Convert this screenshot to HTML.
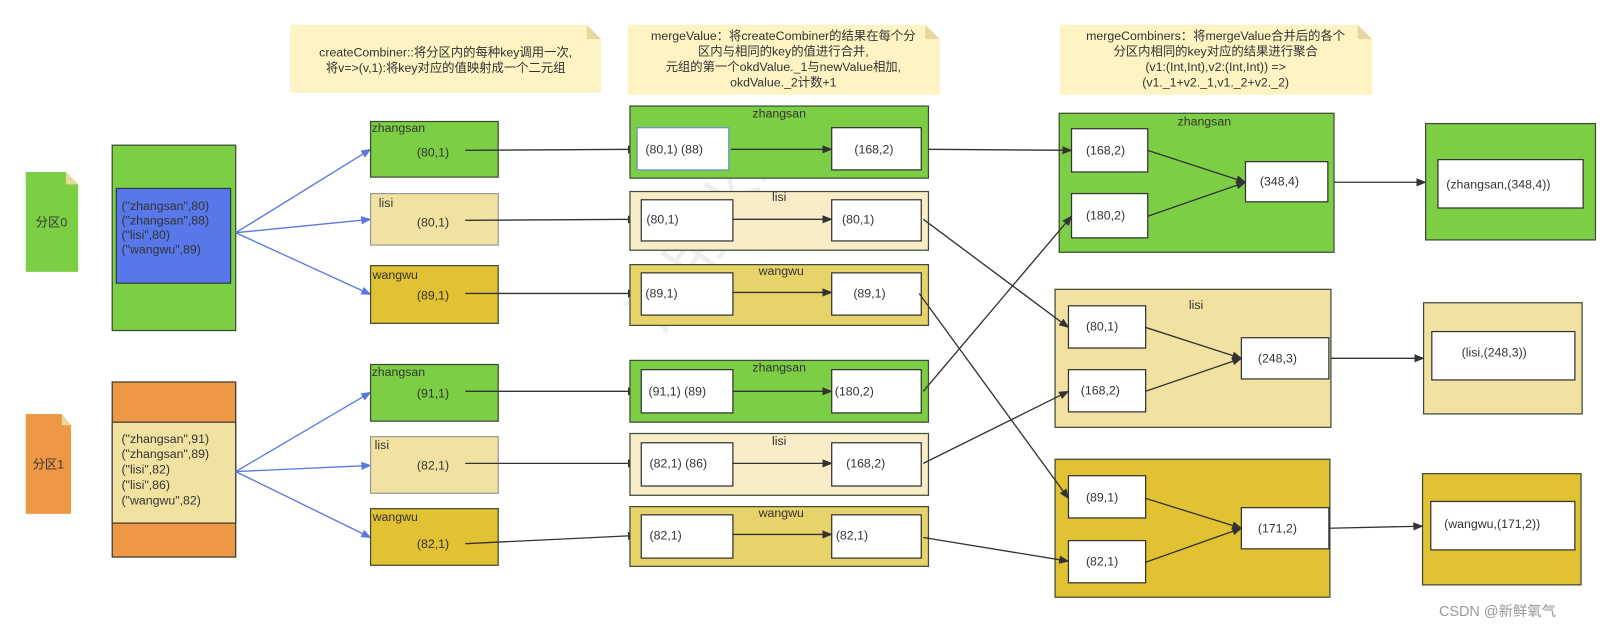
<!DOCTYPE html>
<html><head><meta charset="utf-8"><style>
html,body{margin:0;padding:0;background:#fff;}
svg{display:block;}
text{font-family:"Liberation Sans","Noto Sans CJK SC",sans-serif;font-size:12px;fill:#333;}
</style></head><body>
<svg width="1614" height="624" viewBox="0 0 1568 606" preserveAspectRatio="none" xmlns="http://www.w3.org/2000/svg">
<defs>
<marker id="a" markerWidth="10" markerHeight="8" refX="9" refY="4" orient="auto" markerUnits="userSpaceOnUse"><path d="M0,0 L10,4 L0,8 Z" fill="#333"/></marker>
<marker id="b" markerWidth="10" markerHeight="8" refX="9" refY="4" orient="auto" markerUnits="userSpaceOnUse"><path d="M0,0 L10,4 L0,8 Z" fill="#5a78e0"/></marker>
</defs>
<rect width="1568" height="606" fill="#fff"/>
<!-- watermark -->
<text x="0" y="0" transform="translate(640,330) rotate(-55)" style="font-size:60px;fill:#eeeeee">试用水印</text>

<!-- notes -->
<path d="M282,24 H570 L584,38 V90 H282 Z" fill="#fdf3c3"/><path d="M570,24 L584,38 H570 Z" fill="#e6d89f"/>
<text x="433" y="55" text-anchor="middle">createCombiner::将分区内的每种key调用一次,</text>
<text x="433" y="70" text-anchor="middle">将v=&gt;(v,1):将key对应的值映射成一个二元组</text>
<path d="M610,24 H899 L913,38 V92 H610 Z" fill="#fdf3c3"/><path d="M899,24 L913,38 H899 Z" fill="#e6d89f"/>
<text x="761" y="39" text-anchor="middle">mergeValue：将createCombiner的结果在每个分</text>
<text x="761" y="54" text-anchor="middle">区内与相同的key的值进行合并,</text>
<text x="761" y="69" text-anchor="middle">元组的第一个okdValue._1与newValue相加,</text>
<text x="761" y="84" text-anchor="middle">okdValue._2计数+1</text>
<path d="M1030,24 H1319 L1333,38 V92 H1030 Z" fill="#fdf3c3"/><path d="M1319,24 L1333,38 H1319 Z" fill="#e6d89f"/>
<text x="1181" y="39" text-anchor="middle">mergeCombiners：将mergeValue合并后的各个</text>
<text x="1181" y="54" text-anchor="middle">分区内相同的key对应的结果进行聚合</text>
<text x="1181" y="69" text-anchor="middle">(v1:(Int,Int),v2:(Int,Int)) =&gt;</text>
<text x="1181" y="84" text-anchor="middle">(v1._1+v2._1,v1._2+v2._2)</text>

<!-- docs -->
<path d="M25,167 H64 L76,179 V264 H25 Z" fill="#7ccf45"/><path d="M64,167 L76,179 H64 Z" fill="#e6d89f"/>
<text x="50" y="220" text-anchor="middle">分区0</text>
<path d="M25,402 H60 L69,413 V499 H25 Z" fill="#ee9744"/><path d="M60,402 L69,413 H60 Z" fill="#e6d89f"/>
<text x="47" y="455" text-anchor="middle">分区1</text>

<!-- partitions -->
<rect x="109" y="141" width="120" height="180" fill="#7ccf45" stroke="#3a4a33" stroke-width="1.2"/>
<rect x="113" y="183" width="111" height="92" fill="#5877e8" stroke="#2c3a4a" stroke-width="1.2"/>
<text x="118" y="204">("zhangsan",80)</text><text x="118" y="218">("zhangsan",88)</text><text x="118" y="232">("lisi",80)</text><text x="118" y="246">("wangwu",89)</text>
<rect x="109" y="371" width="120" height="170" fill="#ee9744" stroke="#3a3a33" stroke-width="1.2"/>
<rect x="109" y="410" width="120" height="98" fill="#f2e2a2" stroke="#3a3a33" stroke-width="1.2"/>
<text x="118" y="430">("zhangsan",91)</text><text x="118" y="445">("zhangsan",89)</text><text x="118" y="460">("lisi",82)</text><text x="118" y="475">("lisi",86)</text><text x="118" y="490">("wangwu",82)</text>

<g stroke="#5a78e0" stroke-width="1.3" fill="none" marker-end="url(#b)">
<line x1="229" y1="226" x2="360" y2="145"/><line x1="229" y1="226" x2="360" y2="213"/><line x1="229" y1="226" x2="360" y2="286"/>
<line x1="229" y1="458" x2="360" y2="381"/><line x1="229" y1="458" x2="360" y2="452"/><line x1="229" y1="458" x2="360" y2="522"/>
</g>

<!-- stage1 -->
<g stroke="#3d4a38" stroke-width="1.2">
<rect x="360" y="118" width="124" height="54" fill="#7ccf45"/>
<rect x="360" y="188" width="124" height="50" fill="#f2e2a2" stroke="#999"/>
<rect x="360" y="258" width="124" height="56" fill="#e0c232"/>
<rect x="360" y="354" width="124" height="55" fill="#7ccf45"/>
<rect x="360" y="424" width="124" height="55" fill="#f2e2a2" stroke="#999"/>
<rect x="360" y="494" width="124" height="55" fill="#e0c232"/>
</g>
<text x="361" y="128">zhangsan</text><text x="405" y="152">(80,1)</text>
<text x="368" y="201">lisi</text><text x="405" y="220">(80,1)</text>
<text x="362" y="271">wangwu</text><text x="405" y="291">(89,1)</text>
<text x="361" y="365">zhangsan</text><text x="405" y="386">(91,1)</text>
<text x="364" y="436">lisi</text><text x="405" y="456">(82,1)</text>
<text x="362" y="506">wangwu</text><text x="405" y="532">(82,1)</text>

<g stroke="#333" stroke-width="1.3" fill="none" marker-end="url(#a)">
<line x1="452" y1="146" x2="619" y2="145"/><line x1="452" y1="214" x2="619" y2="213"/><line x1="452" y1="285" x2="619" y2="285"/>
<line x1="452" y1="380" x2="619" y2="380"/><line x1="452" y1="450" x2="619" y2="450"/><line x1="452" y1="528" x2="619" y2="520"/>
</g>

<!-- stage2 -->
<g stroke="#3d4a38" stroke-width="1.2">
<rect x="612" y="103" width="290" height="70" fill="#7ccf45"/>
<rect x="612" y="186" width="290" height="57" fill="#f8edc6"/>
<rect x="612" y="257" width="290" height="59" fill="#e8d36b"/>
<rect x="612" y="350" width="290" height="60" fill="#7ccf45"/>
<rect x="612" y="421" width="290" height="60" fill="#f8edc6"/>
<rect x="612" y="492" width="290" height="58" fill="#e8d36b"/>
</g>
<g fill="#fff" stroke="#333" stroke-width="1.2">
<rect x="619" y="124" width="89" height="41" stroke="#6d8fd0"/><rect x="808" y="124" width="87" height="41"/>
<rect x="623" y="194" width="89" height="40"/><rect x="808" y="194" width="87" height="40"/>
<rect x="623" y="265" width="89" height="41"/><rect x="808" y="265" width="87" height="41"/>
<rect x="623" y="359" width="89" height="42"/><rect x="808" y="359" width="87" height="42"/>
<rect x="623" y="430" width="89" height="42"/><rect x="808" y="430" width="87" height="42"/>
<rect x="623" y="500" width="89" height="42"/><rect x="808" y="500" width="87" height="42"/>
</g>
<text x="757" y="114" text-anchor="middle">zhangsan</text><text x="757" y="195" text-anchor="middle">lisi</text><text x="759" y="267" text-anchor="middle">wangwu</text>
<text x="757" y="361" text-anchor="middle">zhangsan</text><text x="757" y="432" text-anchor="middle">lisi</text><text x="759" y="502" text-anchor="middle">wangwu</text>
<text x="627" y="149">(80,1) (88)</text><text x="830" y="149">(168,2)</text>
<text x="628" y="217">(80,1)</text><text x="818" y="217">(80,1)</text>
<text x="627" y="289">(89,1)</text><text x="829" y="289">(89,1)</text>
<text x="630" y="384">(91,1) (89)</text><text x="811" y="384">(180,2)</text>
<text x="631" y="454">(82,1) (86)</text><text x="822" y="454">(168,2)</text>
<text x="631" y="524">(82,1)</text><text x="812" y="524">(82,1)</text>
<g stroke="#333" stroke-width="1.3" fill="none" marker-end="url(#a)">
<line x1="710" y1="145" x2="808" y2="145"/><line x1="712" y1="213" x2="808" y2="213"/><line x1="712" y1="284" x2="808" y2="284"/>
<line x1="712" y1="380" x2="808" y2="380"/><line x1="712" y1="450" x2="808" y2="450"/><line x1="712" y1="519" x2="808" y2="519"/>
</g>

<!-- stage3 -->
<g stroke="#3d4a38" stroke-width="1.2">
<rect x="1029" y="110" width="267" height="135" fill="#7ccf45"/>
<rect x="1025" y="281" width="268" height="134" fill="#f2e2a2"/>
<rect x="1025" y="446" width="267" height="134" fill="#e0c232"/>
<rect x="1385" y="120" width="165" height="113" fill="#7ccf45"/>
<rect x="1383" y="294" width="154" height="108" fill="#f2e2a2"/>
<rect x="1382" y="460" width="154" height="108" fill="#e0c232"/>
</g>
<g fill="#fff" stroke="#333" stroke-width="1.2">
<rect x="1041" y="125" width="74" height="42"/><rect x="1041" y="188" width="74" height="43"/><rect x="1210" y="157" width="80" height="39"/>
<rect x="1038" y="297" width="75" height="41"/><rect x="1038" y="359" width="75" height="41"/><rect x="1206" y="328" width="85" height="40"/>
<rect x="1038" y="462" width="75" height="41"/><rect x="1038" y="525" width="75" height="41"/><rect x="1206" y="493" width="85" height="40"/>
<rect x="1397" y="155" width="141" height="47"/><rect x="1391" y="322" width="139" height="47"/><rect x="1390" y="487" width="140" height="47"/>
</g>
<text x="1170" y="122" text-anchor="middle">zhangsan</text><text x="1162" y="300" text-anchor="middle">lisi</text>
<text x="1055" y="150">(168,2)</text><text x="1055" y="213">(180,2)</text><text x="1224" y="180">(348,4)</text>
<text x="1055" y="321">(80,1)</text><text x="1050" y="383">(168,2)</text><text x="1222" y="352">(248,3)</text>
<text x="1055" y="487">(89,1)</text><text x="1055" y="549">(82,1)</text><text x="1222" y="517">(171,2)</text>
<text x="1405" y="183">(zhangsan,(348,4))</text><text x="1420" y="346">(lisi,(248,3))</text><text x="1403" y="513">(wangwu,(171,2))</text>
<g stroke="#333" stroke-width="1.3" fill="none" marker-end="url(#a)">
<line x1="1115" y1="146" x2="1210" y2="177"/><line x1="1115" y1="210" x2="1210" y2="177"/>
<line x1="1113" y1="318" x2="1206" y2="348"/><line x1="1113" y1="380" x2="1206" y2="348"/>
<line x1="1113" y1="484" x2="1206" y2="513"/><line x1="1113" y1="546" x2="1206" y2="513"/>
<line x1="902" y1="145" x2="1041" y2="146"/>
<line x1="1296" y1="177" x2="1385" y2="177"/><line x1="1293" y1="348" x2="1383" y2="348"/><line x1="1291" y1="513" x2="1382" y2="511"/>
<line x1="897" y1="213" x2="1038" y2="318"/>
<line x1="893" y1="285" x2="1038" y2="484"/>
<line x1="897" y1="380" x2="1041" y2="210"/>
<line x1="897" y1="450" x2="1038" y2="380"/>
<line x1="897" y1="522" x2="1038" y2="545"/>
</g>
<text x="1398" y="598" style="font-size:14px;fill:#999">CSDN @新鲜氧气</text>
</svg>
</body></html>
